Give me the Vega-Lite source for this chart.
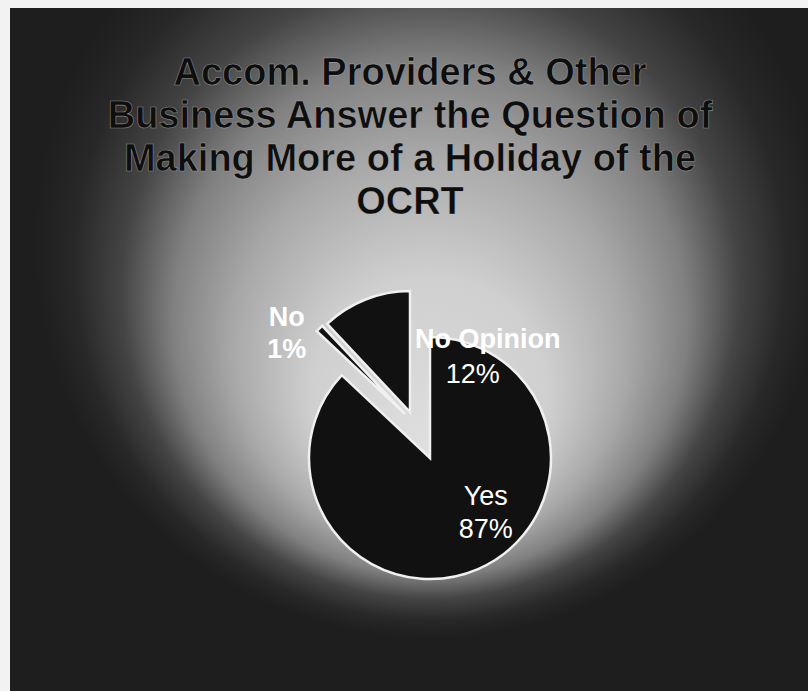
{
  "$schema": "https://vega.github.io/schema/vega-lite/v6.json",
  "width": 840,
  "height": 900,
  "autosize": "none",
  "padding": {"left": 10, "top": 8, "right": -42, "bottom": -217},
  "background": "#f2f2f2",
  "view": {
    "stroke": null,
    "fill": {
      "gradient": "radial",
      "x1": 0.5, "y1": 0.502, "r1": 0,
      "x2": 0.5, "y2": 0.26, "r2": 0.44,
      "stops": [
        {"offset": 0, "color": "#e0e0e0"},
        {"offset": 0.3, "color": "#cfcfcf"},
        {"offset": 0.5, "color": "#a8a8a8"},
        {"offset": 0.65, "color": "#808080"},
        {"offset": 0.78, "color": "#444444"},
        {"offset": 0.9, "color": "#282828"},
        {"offset": 1, "color": "#1e1e1e"}
      ]
    }
  },
  "config": {
    "style": {
      "group-title": {"stroke": "#d0d0d0", "strokeWidth": 0.6, "strokeOpacity": 0.6}
    }
  },
  "title": {
    "text": ["Accom. Providers & Other", "Business Answer the Question of", "Making More of a Holiday of the", "OCRT"],
    "anchor": "middle",
    "frame": "group",
    "offset": -214,
    "dx": -20,
    "font": "Liberation Sans",
    "fontSize": 38,
    "fontWeight": "bold",
    "color": "#0e0e0e",
    "lineHeight": 43
  },
  "data": {
    "values": [
      {"answer": "Yes", "pct": 87},
      {"answer": "No", "pct": 1},
      {"answer": "No Opinion", "pct": 12}
    ]
  },
  "transform": [
    {"window": [{"op": "sum", "field": "pct", "as": "cum"}], "frame": [null, 0]},
    {"calculate": "datum.cum - datum.pct", "as": "start"},
    {"calculate": "(datum.cum + datum.start) / 2", "as": "mid"},
    {"calculate": "datum.pct + '%'", "as": "pctLabel"}
  ],
  "layer": [
    {
      "transform": [{"filter": "datum.answer === 'Yes'"}],
      "mark": {"type": "arc", "outerRadius": 121, "fill": "#111111", "stroke": "#f0f0f0", "strokeWidth": 2.5},
      "encoding": {
        "theta": {"field": "start", "type": "quantitative", "scale": {"domain": [0, 100]}},
        "theta2": {"field": "cum"}
      }
    },
    {
      "transform": [{"filter": "datum.answer === 'No'"}],
      "mark": {"type": "arc", "outerRadius": 121, "fill": "#111111", "stroke": "#f0f0f0", "strokeWidth": 2.5, "xOffset": -25, "yOffset": -44},
      "encoding": {
        "theta": {"field": "start", "type": "quantitative", "scale": {"domain": [0, 100]}},
        "theta2": {"field": "cum"}
      }
    },
    {
      "transform": [{"filter": "datum.answer === 'No Opinion'"}],
      "mark": {"type": "arc", "outerRadius": 121, "fill": "#111111", "stroke": "#f0f0f0", "strokeWidth": 2.5, "xOffset": -20, "yOffset": -46},
      "encoding": {
        "theta": {"field": "start", "type": "quantitative", "scale": {"domain": [0, 100]}},
        "theta2": {"field": "cum"}
      }
    },
    {
      "transform": [{"filter": "datum.answer === 'Yes'"}],
      "mark": {"type": "text", "radius": 75, "dx": 26, "dy": -30, "fill": "#ffffff", "font": "Liberation Sans", "fontSize": 27, "baseline": "middle", "align": "center"},
      "encoding": {
        "theta": {"field": "mid", "type": "quantitative", "scale": {"domain": [0, 100]}},
        "text": {"field": "answer"}
      }
    },
    {
      "transform": [{"filter": "datum.answer === 'Yes'"}],
      "mark": {"type": "text", "radius": 75, "dx": 26, "dy": 3, "fill": "#ffffff", "font": "Liberation Sans", "fontSize": 27, "baseline": "middle", "align": "center"},
      "encoding": {
        "theta": {"field": "mid", "type": "quantitative", "scale": {"domain": [0, 100]}},
        "text": {"field": "pctLabel"}
      }
    },
    {
      "transform": [{"filter": "datum.answer === 'No'"}],
      "mark": {"type": "text", "radius": 170, "dx": -23, "dy": -20, "fill": "#ffffff", "font": "Liberation Sans", "fontSize": 27, "fontWeight": "bold", "baseline": "middle", "align": "center"},
      "encoding": {
        "theta": {"field": "mid", "type": "quantitative", "scale": {"domain": [0, 100]}},
        "text": {"field": "answer"}
      }
    },
    {
      "transform": [{"filter": "datum.answer === 'No'"}],
      "mark": {"type": "text", "radius": 170, "dx": -23, "dy": 12, "fill": "#ffffff", "font": "Liberation Sans", "fontSize": 27, "fontWeight": "bold", "baseline": "middle", "align": "center"},
      "encoding": {
        "theta": {"field": "mid", "type": "quantitative", "scale": {"domain": [0, 100]}},
        "text": {"field": "pctLabel"}
      }
    },
    {
      "transform": [{"filter": "datum.answer === 'No Opinion'"}],
      "mark": {"type": "text", "radius": 120, "dx": 102, "dy": -6, "fill": "#ffffff", "font": "Liberation Sans", "fontSize": 27, "fontWeight": "bold", "baseline": "middle", "align": "center"},
      "encoding": {
        "theta": {"field": "mid", "type": "quantitative", "scale": {"domain": [0, 100]}},
        "text": {"field": "answer"}
      }
    },
    {
      "transform": [{"filter": "datum.answer === 'No Opinion'"}],
      "mark": {"type": "text", "radius": 120, "dx": 87, "dy": 29, "fill": "#ffffff", "font": "Liberation Sans", "fontSize": 27, "baseline": "middle", "align": "center"},
      "encoding": {
        "theta": {"field": "mid", "type": "quantitative", "scale": {"domain": [0, 100]}},
        "text": {"field": "pctLabel"}
      }
    }
  ]
}
